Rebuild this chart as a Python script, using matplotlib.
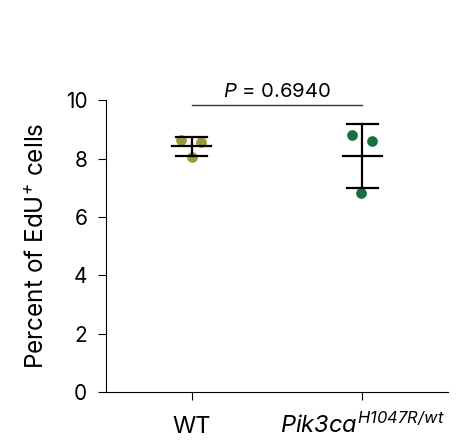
import numpy as np
import matplotlib.pyplot as plt

plt.rcParams['font.family'] = ['Inter', 'DejaVu Sans']
plt.rcParams['mathtext.fontset'] = 'custom'
plt.rcParams['mathtext.rm'] = 'Inter:italic'
plt.rcParams['mathtext.it'] = 'Inter:italic'

groups = ['WT', 'Pik3ca']
wt_values = [8.63, 8.56, 8.05]
pik_values = [8.80, 8.61, 6.82]
wt_jitter = [-0.064, 0.053, 0.0]
pik_jitter = [-0.064, 0.053, -0.008]
colors = ['#9b983a', '#17703f']
p_text = '$P$ = 0.6940'
tick_labels = ['WT', '$Pik3ca^{H1047R/wt}$']

fig = plt.figure(figsize=(4.59, 4.47), dpi=100)
ax = fig.add_axes([0.231, 0.123, 0.745, 0.653])

for i, (vals, jit) in enumerate([(wt_values, wt_jitter), (pik_values, pik_jitter)]):
    vals = np.array(vals)
    ax.plot(i + np.array(jit), vals, 'o', color=colors[i], markersize=7.7,
            markeredgewidth=0, zorder=2)
    m = vals.mean()
    sd = vals.std(ddof=1)
    ax.plot([i - 0.115, i + 0.115], [m, m], color='black', lw=1.6, zorder=3)
    ax.plot([i, i], [m - sd, m + sd], color='black', lw=1.6, zorder=3)
    for y in (m - sd, m + sd):
        ax.plot([i - 0.088, i + 0.088], [y, y], color='black', lw=1.6, zorder=3)

# significance bracket
ax.plot([0, 1], [9.85, 9.85], color='#333333', lw=1.0, clip_on=False)
ax.text(0.5, 10.11, p_text, ha='center', va='baseline', fontsize=14.6)

ax.set_xlim(-0.5, 1.5)
ax.set_ylim(0, 10)
ax.set_yticks([0, 2, 4, 6, 8, 10])
ax.set_xticks([0, 1])
ax.set_xticklabels(tick_labels, fontsize=17)
for lbl in ax.get_xticklabels():
    lbl.set_verticalalignment('baseline')
ax.tick_params(axis='y', labelsize=15, length=6, width=0.8, pad=7.5)
ax.tick_params(axis='x', length=6, width=0.8, pad=23.5)
ax.set_ylabel('Percent of EdU$^{+}$ cells', fontsize=17.5)
ax.yaxis.set_label_coords(-0.17, 0.5)

for side in ('top', 'right'):
    ax.spines[side].set_visible(False)
for side in ('left', 'bottom'):
    ax.spines[side].set_linewidth(0.8)

fig.savefig('out.png', dpi=100)
